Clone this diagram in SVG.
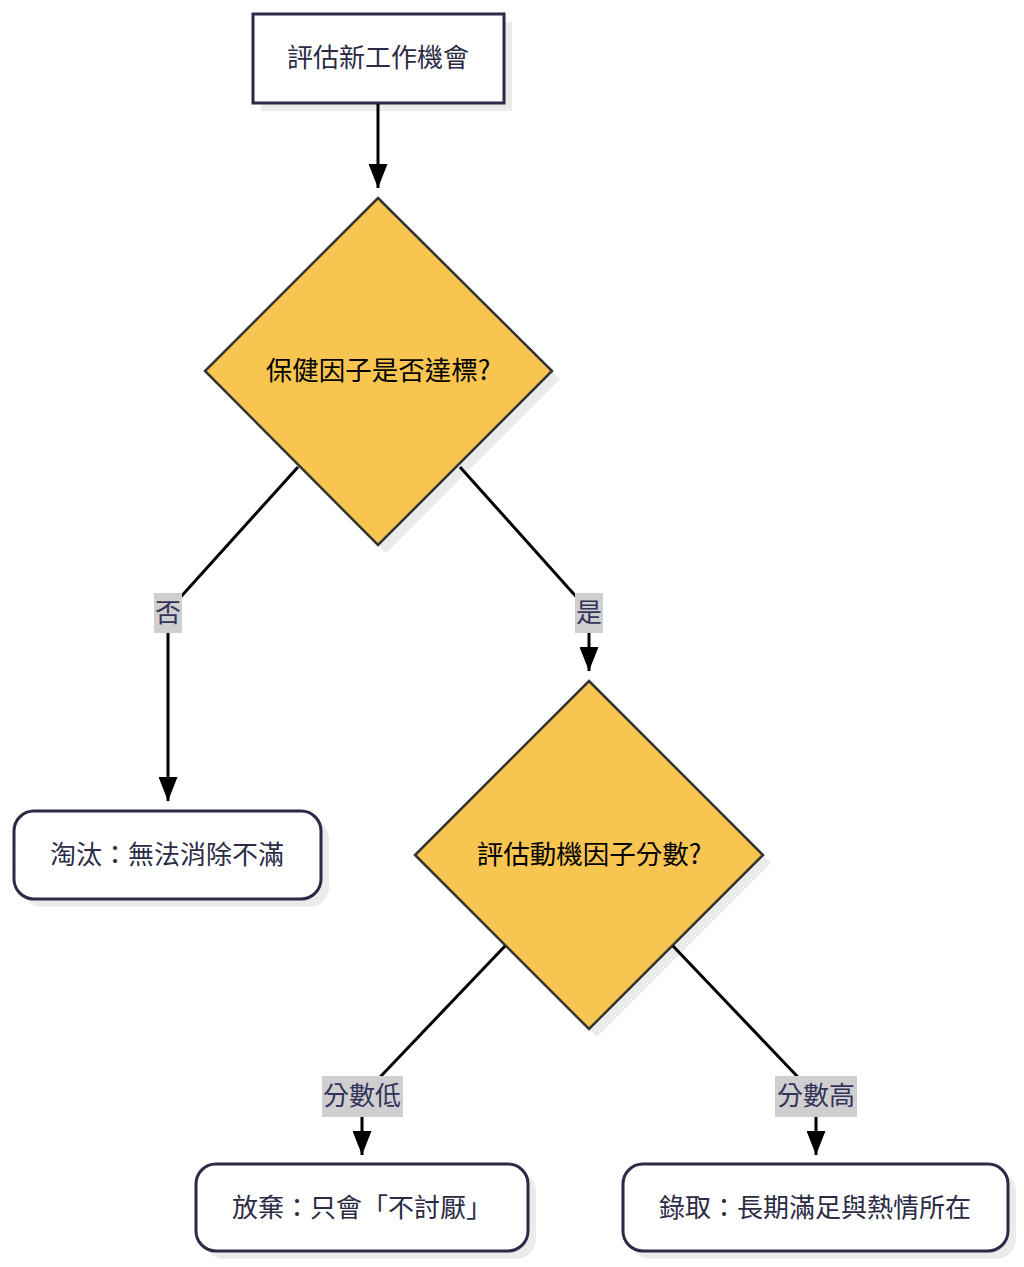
<svg xmlns="http://www.w3.org/2000/svg" width="1024" height="1267" viewBox="0 0 1024 1267">
<style>
text{font-family:"Noto Sans CJK TC","Noto Sans CJK SC",sans-serif;font-size:26px;text-anchor:middle}
.box{fill:#fff;stroke:#2b2b45;stroke-width:3}
.shadow{fill:#ebebeb}
.dia{fill:#f8c550;stroke:#333;stroke-width:2.5}
.t{fill:#2b2b45}
.dt{fill:#000;font-size:26.5px}
.edge{fill:none;stroke:#000;stroke-width:3}
.lbl{fill:#cfcfcf}
.lt{fill:#33335a}
</style>
<defs>
<marker id="arr" viewBox="0 0 24 19" refX="24" refY="9.5" markerWidth="24" markerHeight="19" markerUnits="userSpaceOnUse" orient="auto">
<path d="M0,0 L24,9.5 L0,19 Z" fill="#000"/>
</marker>
</defs>
<g id="start">
<rect class="shadow" x="261" y="22" width="251" height="89"/>
<rect class="box" x="253" y="14" width="251" height="89"/>
<text class="t" x="378" y="67">評估新工作機會</text>
</g>
<g id="hygiene">
<polygon class="shadow" points="386,206 560,379 386,553 213,379"/>
<polygon class="dia" points="378,198 552,371 378,545 205,371"/>
<text class="dt" x="378" y="380">保健因子是否達標?</text>
</g>
<g id="motivation">
<polygon class="shadow" points="597,689 771,863 597,1037 423,863"/>
<polygon class="dia" points="589,681 763,855 589,1029 415,855"/>
<text class="dt" x="589" y="864">評估動機因子分數?</text>
</g>
<g id="eliminate">
<rect class="shadow" x="22" y="819" width="307" height="88" rx="20"/>
<rect class="box" x="14" y="811" width="307" height="88" rx="20"/>
<text class="t" x="167" y="864">淘汰：無法消除不滿</text>
</g>
<g id="abandon">
<rect class="shadow" x="204" y="1172" width="332" height="87" rx="20"/>
<rect class="box" x="196" y="1164" width="332" height="87" rx="20"/>
<text class="t" x="362" y="1217">放棄：只會「不討厭」</text>
</g>
<g id="hire">
<rect class="shadow" x="631" y="1172" width="385" height="87" rx="20"/>
<rect class="box" x="623" y="1164" width="385" height="87" rx="20"/>
<text class="t" x="815" y="1217">錄取：長期滿足與熱情所在</text>
</g>
<g id="connectors">
<path class="edge" d="M378,104 L378,188" marker-end="url(#arr)"/>
<path class="edge" d="M298,467 L168,611 L168,801" marker-end="url(#arr)"/>
<path class="edge" d="M460,467 L589,611 L589,671" marker-end="url(#arr)"/>
<path class="edge" d="M505,946 L362,1096 L362,1155" marker-end="url(#arr)"/>
<path class="edge" d="M673,946 L816,1096 L816,1155" marker-end="url(#arr)"/>
</g>
<g id="labels">
<g id="label-no"><rect class="lbl" x="154" y="593" width="28" height="40"/><text class="lt" x="168" y="622">否</text></g>
<g id="label-yes"><rect class="lbl" x="575" y="593" width="28" height="40"/><text class="lt" x="589" y="622">是</text></g>
<g id="label-low"><rect class="lbl" x="322" y="1076" width="81" height="41"/><text class="lt" x="362" y="1105">分數低</text></g>
<g id="label-high"><rect class="lbl" x="775" y="1076" width="82" height="41"/><text class="lt" x="816" y="1105">分數高</text></g>
</g>
</svg>
